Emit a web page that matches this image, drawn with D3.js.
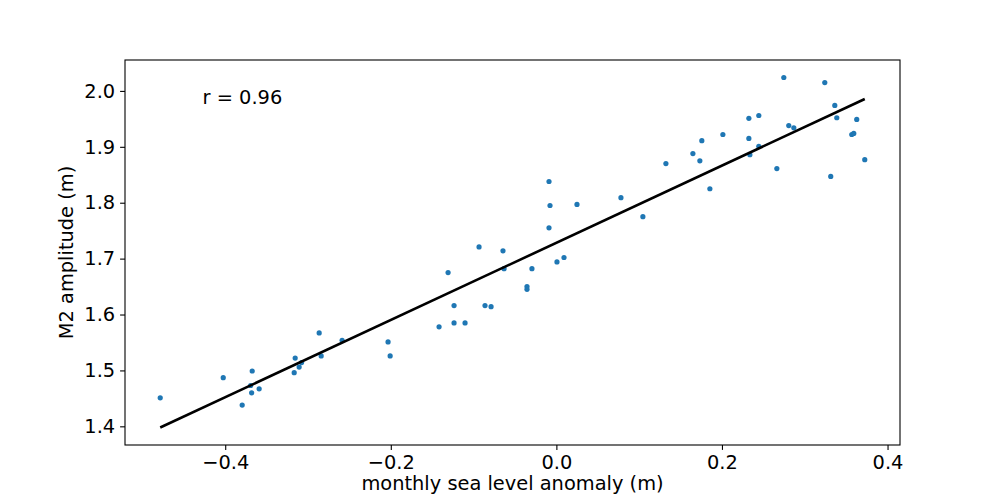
<!DOCTYPE html>
<html>
<head>
<meta charset="utf-8">
<script src="https://cdn.jsdelivr.net/npm/d3@7"></script>
<style>
  body { margin: 0; background: #fff; }
  text { font-family: "DejaVu Sans", sans-serif; fill: #000; }
</style>
</head>
<body>
<div id="scatter"></div>
<script>
// monthly sea level anomaly (m)
var anomaly = [
  -0.4785, -0.4024, -0.3674, -0.3693, -0.3681, -0.3590, -0.3795, -0.3155, -0.3167, -0.3107,
  -0.3078, -0.2865, -0.2841, -0.2588, -0.2033, -0.2008, -0.1417, -0.1308, -0.1236, -0.1236,
  -0.1103, -0.0934, -0.0862, -0.0789, -0.0645, -0.0632, -0.0355, -0.0355, -0.0295, -0.0089,
  0.0007, 0.0092, -0.0089, -0.0077, 0.0249, 0.0780, 0.1045, 0.1323, 0.1649, 0.1733,
  0.1757, 0.1854, 0.2011, 0.2325, 0.2445, 0.2325, 0.2445, 0.2337, 0.2663, 0.2747,
  0.2807, 0.2868, 0.3242, 0.3314, 0.3363, 0.3387, 0.3628, 0.3568, 0.3592, 0.3725
];

// M2 amplitude (m)
var amplitude = [
  1.451, 1.487, 1.499, 1.473, 1.460, 1.467, 1.438, 1.522, 1.496, 1.506,
  1.514, 1.567, 1.526, 1.554, 1.551, 1.526, 1.578, 1.675, 1.616, 1.585,
  1.585, 1.721, 1.616, 1.614, 1.714, 1.682, 1.650, 1.645, 1.682, 1.755,
  1.694, 1.702, 1.838, 1.795, 1.797, 1.809, 1.775, 1.870, 1.888, 1.875,
  1.911, 1.825, 1.922, 1.951, 1.956, 1.915, 1.901, 1.886, 1.861, 2.024,
  1.938, 1.934, 2.015, 1.847, 1.974, 1.952, 1.949, 1.922, 1.924, 1.877
];

var xTicks = [-0.4, -0.2, 0.0, 0.2, 0.4];
var yTicks = [1.4, 1.5, 1.6, 1.7, 1.8, 1.9, 2.0];
var rLabel = 'r = 0.96';

var svgWidth = 1000;
var svgHeight = 500;

var margin = {
    top: 60,
    right: 100,
    bottom: 55,
    left: 125
};

var width = svgWidth - margin.left - margin.right;
var height = svgHeight - margin.top - margin.bottom;

var points = anomaly.map(function(x, i) {
    return { x: x, y: amplitude[i] };
});

// least squares fit
var mx = d3.mean(anomaly);
var my = d3.mean(amplitude);
var sxy = d3.sum(points, d => (d.x - mx) * (d.y - my));
var sxx = d3.sum(points, d => (d.x - mx) * (d.x - mx));
var slope = sxy / sxx;
var intercept = my - slope * mx;

var xExt = d3.extent(anomaly);
var fitLine = xExt.map(x => ({ x: x, y: intercept + slope * x }));

// matplotlib style 5% margins
function pad(ext) {
    var s = ext[1] - ext[0];
    return [ext[0] - 0.05 * s, ext[1] + 0.05 * s];
}
var yExt = d3.extent(amplitude.concat(fitLine.map(d => d.y)));

var svg = d3.select('#scatter')
    .append('svg')
    .attr('width', svgWidth)
    .attr('height', svgHeight);

var chartGroup = svg.append('g')
    .attr('transform', `translate(${margin.left},${margin.top})`);

var xScale = d3.scaleLinear()
    .domain(pad(xExt))
    .range([0, width]);

var yScale = d3.scaleLinear()
    .domain(pad(yExt))
    .range([height, 0]);

var bottomAxis = d3.axisBottom(xScale)
    .tickValues(xTicks)
    .tickFormat(d3.format('.1f'))
    .tickSize(4.9)
    .tickPadding(5.5)
    .tickSizeOuter(0);

var leftAxis = d3.axisLeft(yScale)
    .tickValues(yTicks)
    .tickFormat(d3.format('.1f'))
    .tickSize(4.9)
    .tickPadding(4.9)
    .tickSizeOuter(0);

var xAxisG = chartGroup.append('g')
    .attr('transform', `translate(0, ${height})`)
    .call(bottomAxis);

var yAxisG = chartGroup.append('g')
    .call(leftAxis);

[xAxisG, yAxisG].forEach(function(g) {
    g.select('.domain').remove();
    g.selectAll('.tick line').attr('stroke', '#000').attr('stroke-width', 1.1);
    g.selectAll('.tick text')
        .style('font-family', '"DejaVu Sans", sans-serif')
        .style('font-size', '19.4px')
        .attr('fill', '#000');
});

// points
chartGroup.selectAll('circle')
    .data(points)
    .enter()
    .append('circle')
    .attr('cx', d => xScale(d.x))
    .attr('cy', d => yScale(d.y))
    .attr('r', 2.6)
    .attr('fill', '#1f77b4');

// fit line
chartGroup.append('path')
    .datum(fitLine)
    .attr('fill', 'none')
    .attr('stroke', '#000')
    .attr('stroke-width', 2.6)
    .attr('d', d3.line().x(d => xScale(d.x)).y(d => yScale(d.y)));

// frame
chartGroup.append('rect')
    .attr('x', 0)
    .attr('y', 0)
    .attr('width', width)
    .attr('height', height)
    .attr('fill', 'none')
    .attr('stroke', '#000')
    .attr('stroke-width', 1.1);

chartGroup.append('text')
    .attr('x', width * 0.1)
    .attr('y', 44.3)
    .style('font-size', '19.4px')
    .text(rLabel);

// axis labels
chartGroup.append('text')
    .attr('transform', `translate(${73 - margin.left}, ${height / 2}) rotate(-90)`)
    .style('text-anchor', 'middle')
    .style('font-size', '19.4px')
    .text('M2 amplitude (m)');

chartGroup.append('text')
    .attr('transform', `translate(${width / 2}, ${490 - margin.top})`)
    .style('text-anchor', 'middle')
    .style('font-size', '19.4px')
    .text('monthly sea level anomaly (m)');
</script>
</body>
</html>
